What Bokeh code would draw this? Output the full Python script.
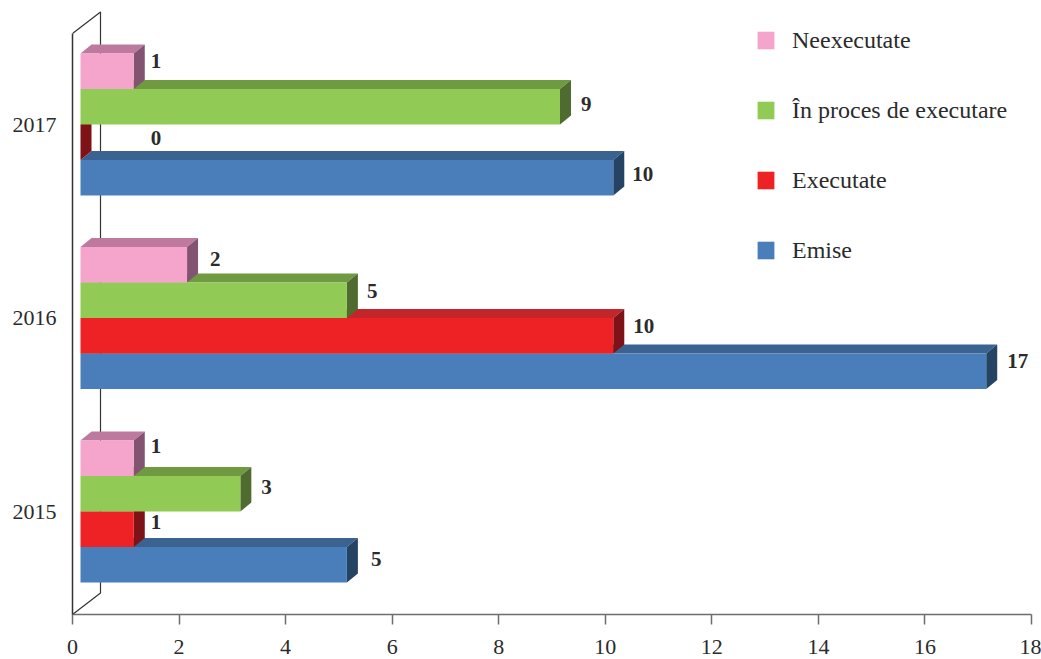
from bokeh.core.properties import value
from bokeh.embed import file_html
from bokeh.models import ColumnDataSource, FixedTicker, Legend, LegendItem, LinearAxis, Range1d
from bokeh.plotting import figure
from bokeh.resources import INLINE

years = ["2015", "2016", "2017"]
emise = [5, 17, 10]
executate = [1, 10, 0]
in_proces = [3, 5, 9]
neexecutate = [1, 2, 1]
x_ticks = [0, 2, 4, 6, 8, 10, 12, 14, 16, 18]

FONT = "Liberation Serif"
TEXT = "#2b2b2b"

# Pixel scale of the plot frame, used to express the 3-D depth in data units.
FRAME_W, FRAME_H = 959, 606
X_UNIT = FRAME_W / 18
Y_UNIT = 193.5
Y_MIN = -0.532

BAR_H = 35.5 / Y_UNIT
FRONT_DX = 8 / X_UNIT
DEPTH_X = 11 / X_UNIT
DEPTH_Y = 9 / Y_UNIT
WALL_X = 28 / X_UNIT
WALL_Y = 21.5 / Y_UNIT

# Series in draw order, bottom bar of each group first.
series = [
    ("Emise", emise, "#4a7ebb", "#3a6391", "#254363", -1.5),
    ("Executate", executate, "#ee2224", "#c2252a", "#7f1216", -0.5),
    ("În proces de executare", in_proces, "#92ca56", "#6f9a41", "#4f6b2f", 0.5),
    ("Neexecutate", neexecutate, "#f5a4cb", "#be7a9e", "#825472", 1.5),
]

p = figure(
    width=1041, height=659, output_backend="svg", toolbar_location=None,
    x_range=Range1d(0, 18), y_range=Range1d(Y_MIN, Y_MIN + FRAME_H / Y_UNIT),
    min_border_left=72, min_border_right=10, min_border_top=8, min_border_bottom=45,
    x_axis_location=None, y_axis_location=None, outline_line_color=None,
    background_fill_color="white", border_fill_color="white",
)
p.grid.visible = False

# Value axis along the floor of the chart.
x_axis = LinearAxis(ticker=FixedTicker(ticks=x_ticks))
x_axis.axis_line_color = "#6e6e6e"
x_axis.axis_line_width = 1.5
x_axis.major_tick_line_color = "#6e6e6e"
x_axis.major_tick_line_width = 1.5
x_axis.major_tick_out = 10
x_axis.major_tick_in = 0
x_axis.minor_tick_line_color = None
x_axis.major_label_standoff = 15
x_axis.major_label_text_font = FONT
x_axis.major_label_text_font_size = "22px"
x_axis.major_label_text_color = TEXT
p.add_layout(x_axis, "below")

# Year axis on the front plane.
y_axis = LinearAxis(ticker=FixedTicker(ticks=[0, 1, 2]))
y_axis.major_label_overrides = {i: y for i, y in enumerate(years)}
y_axis.bounds = (Y_MIN, Y_MIN + 581 / Y_UNIT)
y_axis.axis_line_color = "#333333"
y_axis.axis_line_width = 1.5
y_axis.major_tick_line_color = None
y_axis.minor_tick_line_color = None
y_axis.major_label_standoff = 10
y_axis.major_label_orientation = "horizontal"
y_axis.major_label_text_font = FONT
y_axis.major_label_text_font_size = "22px"
y_axis.major_label_text_color = TEXT
p.add_layout(y_axis, "left")

# Back wall and the floor edge joining it to the axes.
top_front = Y_MIN + 581 / Y_UNIT
p.line([0, WALL_X, WALL_X, 0],
       [top_front, top_front + WALL_Y, Y_MIN + WALL_Y, Y_MIN],
       line_color="#333333", line_width=1.2)

legend_items = {}
for name, values, front, top, side, slot in series:
    x_left, x_right, y_low, y_high = [], [], [], []
    top_xs, top_ys, side_xs, side_ys = [], [], [], []
    for g, v in enumerate(values):
        y0 = g + (slot - 0.5) * BAR_H
        y1 = y0 + BAR_H
        x0 = FRONT_DX
        x1 = FRONT_DX + v
        x_left.append(x0)
        x_right.append(x1)
        y_low.append(y0)
        y_high.append(y1)
        top_xs.append([x0, x1, x1 + DEPTH_X, x0 + DEPTH_X])
        top_ys.append([y1, y1, y1 + DEPTH_Y, y1 + DEPTH_Y])
        side_xs.append([x1, x1 + DEPTH_X, x1 + DEPTH_X, x1])
        side_ys.append([y0, y0 + DEPTH_Y, y1 + DEPTH_Y, y1])
    p.patches(top_xs, top_ys, fill_color=top, line_color=None)
    p.patches(side_xs, side_ys, fill_color=side, line_color=None)
    bars = p.quad(left=x_left, right=x_right, bottom=y_low, top=y_high,
                  fill_color=front, line_color=None)
    legend_items[name] = bars

legend = Legend(
    items=[LegendItem(label=n, renderers=[legend_items[n]])
           for n in ["Neexecutate", "În proces de executare", "Executate", "Emise"]],
    location=(683, 350), orientation="vertical",
    background_fill_alpha=0, border_line_color=None,
    margin=0, padding=0, spacing=42,
    glyph_width=21, glyph_height=22, label_height=28,
    label_standoff=16, label_text_font=FONT, label_text_font_size="24px",
    label_text_color=TEXT, label_text_baseline="middle",
)
p.add_layout(legend, "center")

# Value labels; each one carries its own small pixel nudge from the bar end.
label_nudges = {
    ("Emise", 0): (13, 6), ("Emise", 1): (10, 10), ("Emise", 2): (8, 4),
    ("Executate", 0): (6, 7), ("Executate", 1): (9, 10), ("Executate", 2): (6, 4),
    ("În proces de executare", 0): (10, 7), ("În proces de executare", 1): (9, 9),
    ("În proces de executare", 2): (10, 3),
    ("Neexecutate", 0): (6, 12), ("Neexecutate", 1): (12, 6), ("Neexecutate", 2): (6, 10),
}
lx, ly, lt, ox, oy = [], [], [], [], []
for name, values, _front, _top, _side, slot in series:
    for g, v in enumerate(values):
        lx.append(FRONT_DX + max(v, 1) + DEPTH_X)
        ly.append(g + slot * BAR_H)
        lt.append(str(v))
        nx, ny = label_nudges[(name, g)]
        ox.append(nx)
        oy.append(-ny)
labels = ColumnDataSource(dict(x=lx, y=ly, text=lt, ox=ox, oy=oy))
p.text("x", "y", "text", source=labels, x_offset="ox", y_offset="oy",
       text_font=value(FONT), text_font_style="bold", text_font_size="21px",
       text_color=TEXT, text_align="left", text_baseline="middle")

open("out.html", "w").write(file_html(p, INLINE))
